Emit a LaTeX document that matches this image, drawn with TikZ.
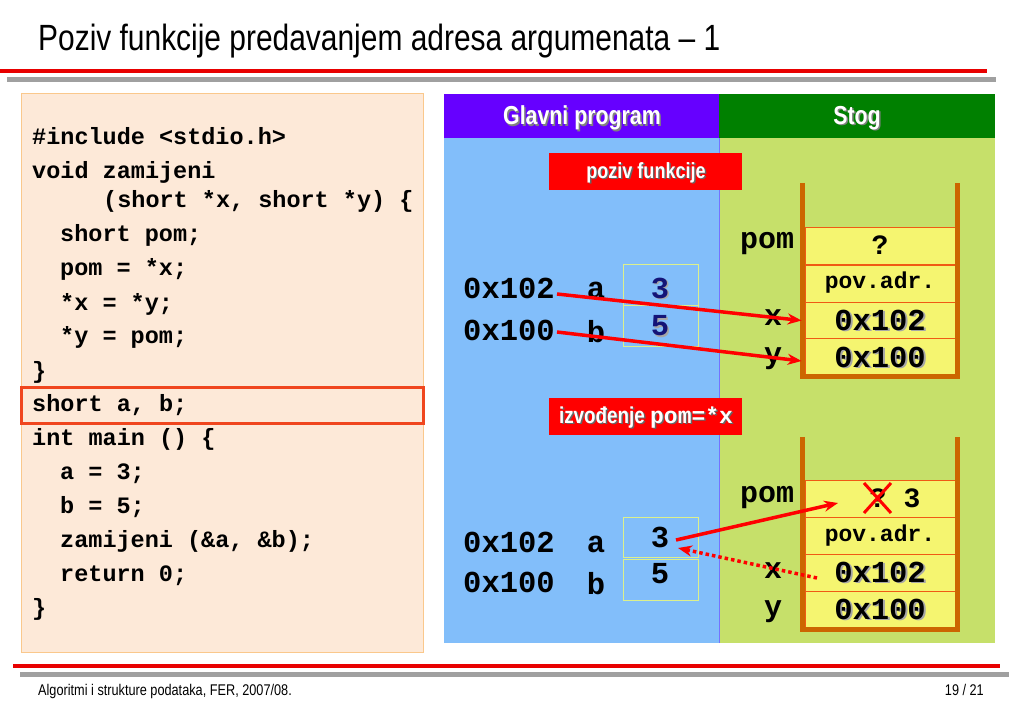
\documentclass[tikz,border=0pt]{standalone}
\usepackage{fontspec}
\setmainfont{Liberation Sans}
\newfontfamily\narrow[FakeStretch=0.82]{Liberation Sans}
\newfontfamily\cour{Liberation Mono}
\usetikzlibrary{arrows.meta}
\definecolor{codebg}{RGB}{253,233,216}
\definecolor{codeframe}{RGB}{250,200,140}
\definecolor{hilite}{RGB}{240,70,30}
\definecolor{blueb}{RGB}{130,190,250}
\definecolor{greenb}{RGB}{198,224,106}
\definecolor{purp}{RGB}{102,0,255}
\definecolor{dgreen}{RGB}{0,128,0}
\definecolor{cellyel}{RGB}{245,245,112}
\definecolor{wallc}{RGB}{204,102,0}
\definecolor{sepc}{RGB}{240,90,20}
\definecolor{boxline}{RGB}{220,240,140}
\definecolor{redl}{RGB}{232,0,0}
\definecolor{grayl}{RGB}{160,160,160}
\definecolor{navy}{RGB}{20,20,120}
\definecolor{arrred}{RGB}{255,0,0}
\tikzset{
  code/.style={anchor=mid west, inner sep=0, font=\cour\bfseries\fontsize{23.5}{24}\selectfont},
  big/.style={inner sep=0, font=\cour\bfseries\fontsize{30.5}{30}\selectfont},
  lbl/.style={inner sep=0, font=\cour\bfseries\fontsize{30}{30}\selectfont},
  cell/.style={minimum width=150, minimum height=37, inner sep=0, fill=cellyel, draw=sepc, line width=0.8},
  vbox/.style={minimum width=75, minimum height=41, inner sep=0, draw=boxline, line width=0.8},
  wall/.style={draw=wallc, line width=5},
  hdr/.style={text=white, inner sep=0, font=\narrow\bfseries\fontsize{26}{26}\selectfont},
  tag/.style={fill=arrred, minimum width=193, minimum height=37, inner sep=0},
  tagtext/.style={text=white, inner sep=0, font=\narrow\bfseries\fontsize{22}{22}\selectfont},
  cshd/.style={text=gray!70},
  arr/.style={draw=arrred, line width=3.5, -{Stealth[length=14,width=11]}},
  darr/.style={draw=arrred, line width=3.5, dash pattern=on 3.5 off 3, -{Stealth[length=14,width=11]}},
}
\begin{document}
\begin{tikzpicture}[x=1pt,y=-1pt]
\useasboundingbox (0,0) rectangle (1023,708);
\fill[white] (0,0) rectangle (1023,708);
% title
\node[anchor=base west, inner sep=0, font=\narrow\fontsize{36.5}{40}\selectfont] (title) at (38,51) {Poziv funkcije predavanjem adresa argumenata – 1};
\draw[redl, line width=3.5] (0,71) -- (987,71);
\draw[grayl, line width=4.5] (7,79.5) -- (996,79.5);
% footer
\draw[redl, line width=3.5] (13,666) -- (1000,666);
\draw[grayl, line width=4.5] (20,674.5) -- (1009,674.5);
\node[anchor=base west, inner sep=0, font=\narrow\fontsize{15.5}{16}\selectfont] (foot) at (38,695) {Algoritmi i strukture podataka, FER, 2007/08.};
\node[anchor=base east, inner sep=0, font=\narrow\fontsize{15.5}{16}\selectfont] (page) at (984,695) {19 / 21};
% code box
\filldraw[fill=codebg, draw=codeframe, line width=1] (21,94) rectangle (423,652);
\node[code] (l1) at (32,142) {\#include <stdio.h>};
\node[code] (l2) at (32,176) {void zamijeni};
\node[code] (l3) at (103,205) {(short *x, short *y) \{};
\node[code] (l4) at (60,239) {short pom;};
\node[code] (l5) at (60,273) {pom = *x;};
\node[code] (l6) at (60,308) {*x = *y;};
\node[code] (l7) at (60,341) {*y = pom;};
\node[code] (l8) at (32,376) {\}};
\node[code] (l9) at (32,409) {short a, b;};
\node[code] (l10) at (32,443) {int main () \{};
\node[code] (l11) at (60,477) {a = 3;};
\node[code] (l12) at (60,511) {b = 5;};
\node[code] (l13) at (60,545) {zamijeni (\&a, \&b);};
\node[code] (l14) at (60,579) {return 0;};
\node[code] (l15) at (32,613) {\}};
\draw[hilite, line width=3] (21.5,388) rectangle (423.5,424);
% panels
\fill[blueb] (444,94) rectangle (719,643);
\fill[greenb] (719,94) rectangle (995,643);
\fill[purp] (444,94) rectangle (719,138);
\fill[dgreen] (719,94) rectangle (995,138);
\draw[blue!55, line width=0.8] (719,138) -- (719,643);
\node[hdr, text=black!50] (h1s) at (583.5,119.5) {Glavni program};
\node[hdr] (h1) at (582,118) {Glavni program};
\node[hdr, text=black!50] (h2s) at (858.5,119.5) {Stog};
\node[hdr] (h2) at (857,118) {Stog};
% tags
\node[tag] (tag1) at (645.5,172) {};
\node[tagtext, text=black!60] (tag1s) at (647.5,174) {poziv funkcije};
\node[tagtext] (tag1t) at (646,172.5) {poziv funkcije};
\node[tag] (tag2) at (645.5,417) {};
\node[tagtext, text=black!60, font=\narrow\bfseries\fontsize{23}{23}\selectfont] (tag2s) at (647.5,419) {izvođenje \cour\bfseries pom=*x};
\node[tagtext, font=\narrow\bfseries\fontsize{23}{23}\selectfont] (tag2t) at (646,417.5) {izvođenje \cour\bfseries pom=*x};
% ---------- upper scene ----------
\node[vbox] (va) at (660.5,284.5) {};
\node[vbox] (vb) at (660.5,326) {};
\node[big, cshd] (vas) at (661.5,289.5) {3};
\node[big, text=navy] (vat) at (660,288) {3};
\node[big, cshd] (vbs) at (661.5,327.5) {5};
\node[big, text=navy] (vbt) at (660,326) {5};
\node[big] (ad1) at (509,288) {0x102};
\node[big] (ad2) at (509,330) {0x100};
\node[big] (na) at (596,290) {a};
\node[big] (nb) at (596,332) {b};
% stack upper
\node[cell] (u1) at (880,246) {};
\node[cell] (u2) at (880,283.5) {};
\node[cell] (u3) at (880,320.5) {};
\node[cell] (u4) at (880,357) {};
\draw[wall] (802,183) -- (802,376.5) -- (957.5,376.5) -- (957.5,183);
\node[inner sep=0, font=\cour\bfseries\fontsize{28}{28}\selectfont] (uq) at (880,245) {?};
\node[inner sep=0, font=\cour\bfseries\fontsize{23}{23}\selectfont] (up) at (880,283) {pov.adr.};
\node[big, cshd] (u3s) at (882,321.5) {0x102};
\node[big] (u3t) at (880,320) {0x102};
\node[big, cshd] (u4s) at (882,358.5) {0x100};
\node[big] (u4t) at (880,357) {0x100};
\node[lbl] (upom) at (767,244) {pom};
\node[lbl] (ux) at (773,318) {x};
\node[lbl] (uy) at (773,359) {y};
\coordinate (ua1) at (557,294);
\coordinate (ua2) at (557,332);
\draw[arr] (ua1) -- ([xshift=-3]u3.west);
\draw[arr] (ua2) -- ([xshift=-3,yshift=-4]u4.west);
% ---------- lower scene ----------
\node[vbox, minimum height=40] (wa) at (660.5,537) {};
\node[vbox] (wb) at (660.5,579.5) {};
\node[big] (wat) at (660,537) {3};
\node[big] (wbt) at (660,574) {5};
\node[big] (bd1) at (509,542) {0x102};
\node[big] (bd2) at (509,582) {0x100};
\node[big] (ma) at (596,544) {a};
\node[big] (mb) at (596,584) {b};
\node[cell] (d1) at (880,498.5) {};
\node[cell] (d2) at (880,535.5) {};
\node[cell] (d3) at (880,572.5) {};
\node[cell] (d4) at (880,609.5) {};
\draw[wall] (802,437) -- (802,629.5) -- (957.5,629.5) -- (957.5,437);
\node[inner sep=0, font=\cour\bfseries\fontsize{28}{28}\selectfont] (dq) at (878,498) {?};
\node[inner sep=0, font=\cour\bfseries\fontsize{28}{28}\selectfont] (d3v) at (912,498) {3};
\draw[arrred, line width=3] (864,483) -- (891,513) (891,483) -- (864,513);
\node[inner sep=0, font=\cour\bfseries\fontsize{23}{23}\selectfont] (dp) at (880,536) {pov.adr.};
\node[big, cshd] (d3s) at (882,573.5) {0x102};
\node[big] (d3t) at (880,572) {0x102};
\node[big, cshd] (d4s) at (882,610.5) {0x100};
\node[big] (d4t) at (880,609) {0x100};
\node[lbl] (dpom) at (767,498) {pom};
\node[lbl] (dx) at (773,571) {x};
\node[lbl] (dy) at (773,612) {y};
\coordinate (da) at (676,540);
\coordinate (db) at (838,503);
\coordinate (dc) at (817,578);
\coordinate (dd) at (678,548);
\draw[arr] (da) -- (db);
\draw[darr] (dc) -- (dd);
\end{tikzpicture}
\end{document}
